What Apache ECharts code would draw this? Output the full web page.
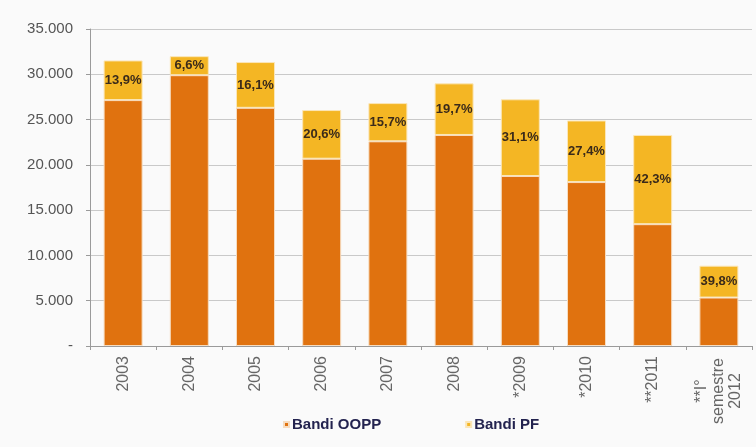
<!DOCTYPE html>
<html>
<head>
<meta charset="utf-8">
<script src="https://cdn.jsdelivr.net/npm/echarts@6/dist/echarts.min.js"></script>
<style>
html,body{margin:0;padding:0;background:#fafafa;}
#c{width:756px;height:447px;}
</style>
</head>
<body>
<div id="c"></div>
<script>
var categories = ['2003','2004','2005','2006','2007','2008','*2009','*2010','**2011','**I°\nsemestre\n2012'];
var oopp = [27150, 29900, 26300, 20680, 22600, 23300, 18770, 18100, 13450, 5350];
var pf   = [4380, 2100, 5050, 5370, 4220, 5700, 8470, 6800, 9850, 3520];
var pfShare = ['13,9%','6,6%','16,1%','20,6%','15,7%','19,7%','31,1%','27,4%','42,3%','39,8%'];
var yTicks = [0, 5000, 10000, 15000, 20000, 25000, 30000, 35000];

function fmtY(v){
  if (v === 0) return '-';
  return String(v).replace(/\B(?=(\d{3})+(?!\d))/g, '.');
}

var FONT = 'Liberation Sans, Arial, sans-serif';
var chart = echarts.init(document.getElementById('c'));
chart.setOption({
  backgroundColor: '#fafafa',
  animation: false,
  grid: {left: 90, right: 4, top: 29, bottom: 101, containLabel: false},
  legend: {
    bottom: 10,
    left: 278,
    itemGap: 84,
    itemWidth: 5,
    itemHeight: 5,
    icon: 'rect',
    textStyle: {color: '#23234f', fontWeight: 'bold', fontSize: 15, fontFamily: FONT, padding: [0,0,0,-2]},
    data: ['Bandi OOPP', 'Bandi PF']
  },
  xAxis: {
    type: 'category',
    data: categories,
    axisLine: {lineStyle: {color: '#9a9a9a'}},
    axisTick: {show: true, length: 4, inside: false, lineStyle: {color: '#9a9a9a'}},
    axisLabel: {
      rotate: 90,
      margin: 10,
      color: '#666',
      fontSize: 16,
      fontFamily: FONT,
      interval: 0,
      formatter: function(v){
        if (v.indexOf('\n') >= 0) {
          return v.split('\n').map(function(s){ return '{c|' + s + '}'; }).join('\n');
        }
        return v;
      },
      rich: {c: {width: 70, align: 'center', color: '#666', fontSize: 16, fontFamily: FONT, lineHeight: 17}}
    }
  },
  yAxis: {
    type: 'value',
    min: 0,
    max: 35000,
    interval: 5000,
    axisLine: {show: true, lineStyle: {color: '#9a9a9a'}},
    axisTick: {show: true, length: 4, lineStyle: {color: '#9a9a9a'}},
    splitLine: {lineStyle: {color: '#c9c9c9'}},
    axisLabel: {
      margin: 17,
      color: '#555',
      fontSize: 15,
      fontFamily: FONT,
      customValues: yTicks,
      formatter: fmtY
    }
  },
  series: [
    {
      name: 'Bandi OOPP',
      type: 'bar',
      stack: 'tot',
      barWidth: 39,
      data: oopp,
      itemStyle: {color: '#e0720f', borderColor: '#f6dcc0', borderWidth: 1}
    },
    {
      name: 'Bandi PF',
      type: 'bar',
      stack: 'tot',
      barWidth: 39,
      data: pf,
      itemStyle: {color: '#f4b624', borderColor: '#fbe6b8', borderWidth: 1},
      label: {
        show: true,
        position: 'inside',
        color: '#3a2a1a',
        fontWeight: 'bold',
        fontSize: 13,
        fontFamily: FONT,
        formatter: function(p){ return pfShare[p.dataIndex]; }
      }
    }
  ]
});
</script>
</body>
</html>
